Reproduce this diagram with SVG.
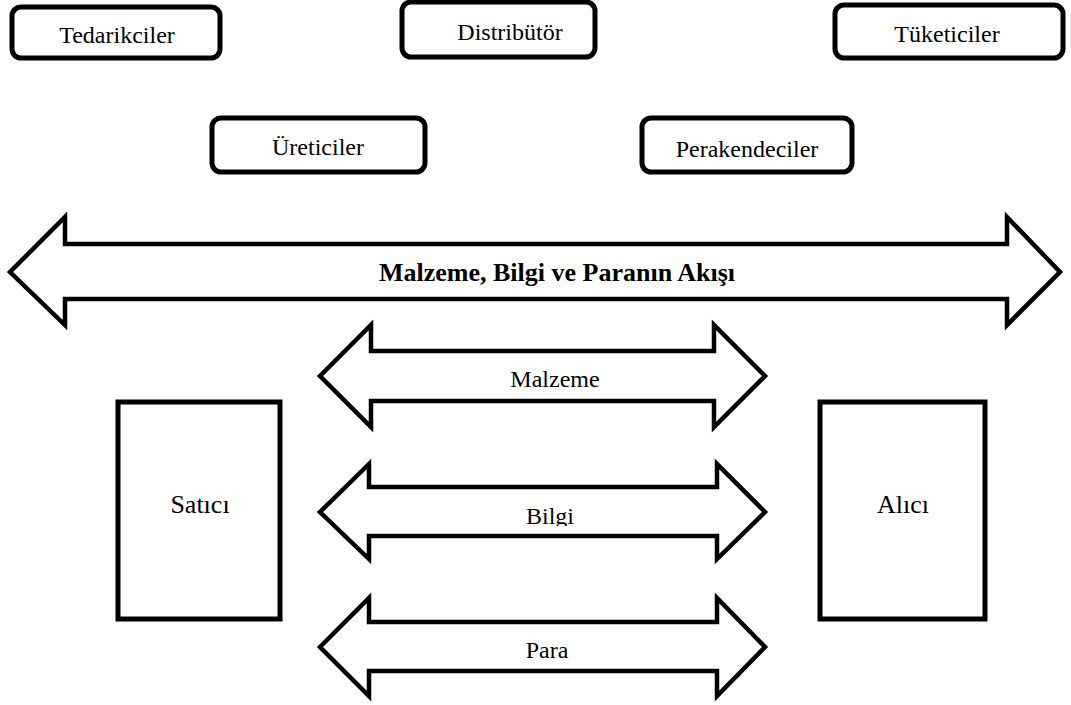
<svg xmlns="http://www.w3.org/2000/svg" width="1071" height="705" viewBox="0 0 1071 705">
  <style>
    .box { fill: #ffffff; stroke: #000000; stroke-width: 5; }
    .arrow { fill: #ffffff; stroke: #000000; stroke-width: 4.5; stroke-linejoin: miter; }
    text { font-family: 'Liberation Serif', 'DejaVu Serif', serif; font-size: 24px; fill: #000000; text-anchor: middle; }
    text.bold { font-weight: bold; font-size: 26px; }
    text.party { font-size: 26px; }
  </style>
  <defs>
    <clipPath id="clip-bilgi">
      <rect x="330" y="490" width="420" height="36"/>
    </clipPath>
  </defs>
  <rect width="1071" height="705" fill="#ffffff"/>

  <!-- supply chain members -->
  <g id="node-tedarikciler">
    <rect class="box" x="12" y="7" width="208" height="51" rx="9"/>
    <text x="117" y="43" font-family="Liberation Serif, serif">Tedarikciler</text>
  </g>
  <g id="node-distributor">
    <rect class="box" x="402" y="2" width="193" height="55" rx="9"/>
    <text x="510" y="40" font-family="Liberation Serif, serif">Distribütör</text>
  </g>
  <g id="node-tuketiciler">
    <rect class="box" x="835" y="5" width="228" height="53" rx="9"/>
    <text x="947" y="42" font-family="Liberation Serif, serif">Tüketiciler</text>
  </g>
  <g id="node-ureticiler">
    <rect class="box" x="212" y="118" width="213" height="54" rx="9"/>
    <text x="318" y="155" font-family="Liberation Serif, serif">Üreticiler</text>
  </g>
  <g id="node-perakendeciler">
    <rect class="box" x="642" y="118" width="210" height="54" rx="9"/>
    <text x="747" y="157" font-family="Liberation Serif, serif">Perakendeciler</text>
  </g>

  <!-- trading parties -->
  <g id="node-satici">
    <rect class="box" x="118" y="402" width="162" height="217"/>
    <text class="party" x="200" y="513" font-family="Liberation Serif, serif">Satıcı</text>
  </g>
  <g id="node-alici">
    <rect class="box" x="820" y="402" width="165" height="217"/>
    <text class="party" x="903" y="513" font-family="Liberation Serif, serif">Alıcı</text>
  </g>

  <!-- flow arrows -->
  <g id="connectors">
    <g id="flow-all">
      <path class="arrow" d="M10,272 L65,217 L65,244 L1007,244 L1007,217 L1060,272 L1007,325 L1007,299 L65,299 L65,325 Z"/>
      <text class="bold" x="557" y="281" font-family="Liberation Serif, serif">Malzeme, Bilgi ve Paranın Akışı</text>
    </g>
    <g id="flow-malzeme">
      <path class="arrow" d="M320,376 L371,325 L371,351 L714,351 L714,325 L765,376 L714,427 L714,401 L371,401 L371,427 Z"/>
      <text x="555" y="387" font-family="Liberation Serif, serif">Malzeme</text>
    </g>
    <g id="flow-bilgi">
      <path class="arrow" d="M320,512 L369,464 L369,487 L717,487 L717,464 L765,512 L717,559 L717,536 L369,536 L369,559 Z"/>
      <text x="550" y="524" clip-path="url(#clip-bilgi)" font-family="Liberation Serif, serif">Bilgi</text>
    </g>
    <g id="flow-para">
      <path class="arrow" d="M320,647 L369,598 L369,622 L717,622 L717,598 L765,647 L717,696 L717,671 L369,671 L369,696 Z"/>
      <text x="547" y="658" font-family="Liberation Serif, serif">Para</text>
    </g>
  </g>
</svg>
